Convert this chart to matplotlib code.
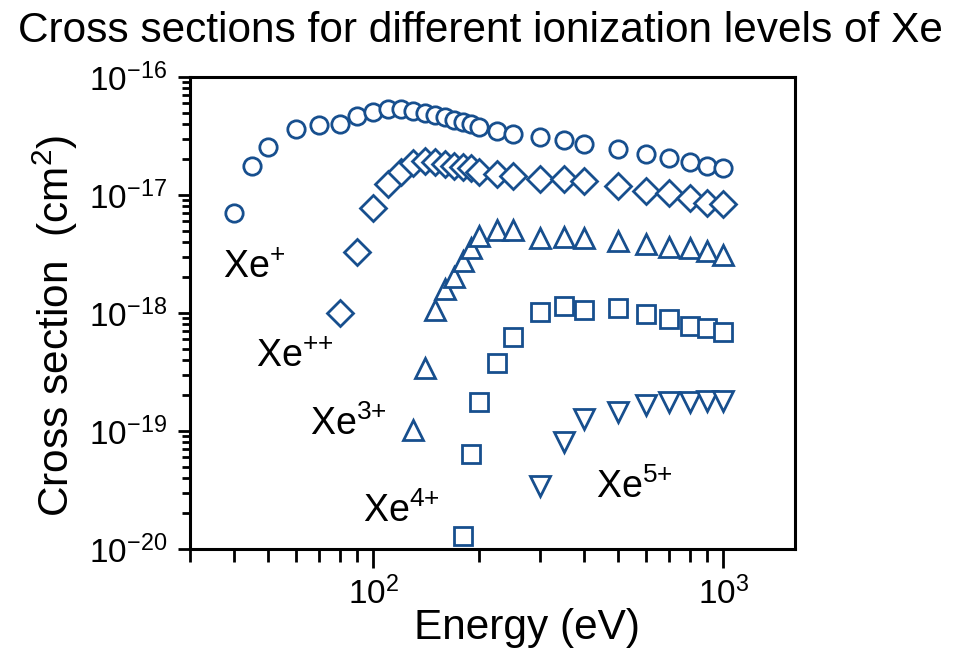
import numpy as np
import matplotlib
matplotlib.use("Agg")
import matplotlib.pyplot as plt
from matplotlib.ticker import LogLocator, NullFormatter

# --- Font setup (Arial-like) ---
plt.rcParams['font.family'] = ['Liberation Sans', 'DejaVu Sans']
plt.rcParams['mathtext.fontset'] = 'custom'
plt.rcParams['mathtext.rm'] = 'Liberation Sans'
plt.rcParams['mathtext.it'] = 'Liberation Sans:italic'
plt.rcParams['mathtext.bf'] = 'Liberation Sans:bold'

# --- Data (energy in eV, cross section in cm^2) ---
E_xe1 = [40, 45, 50, 60, 70, 80, 90, 100, 110, 120, 130, 140, 150, 160, 170,
         180, 190, 200, 225, 250, 300, 350, 400, 500, 600, 700, 800, 900, 1000]
s_xe1 = [7.0e-18, 1.76e-17, 2.56e-17, 3.62e-17, 3.89e-17, 3.97e-17, 4.67e-17,
         5.01e-17, 5.32e-17, 5.32e-17, 5.19e-17, 4.99e-17, 4.77e-17, 4.55e-17,
         4.32e-17, 4.18e-17, 4.0e-17, 3.8e-17, 3.51e-17, 3.27e-17, 3.08e-17,
         2.92e-17, 2.69e-17, 2.44e-17, 2.21e-17, 2.07e-17, 1.89e-17, 1.76e-17,
         1.69e-17]

E_xe2 = [80, 90, 100, 110, 120, 130, 140, 150, 160, 170, 180, 190, 200, 225,
         250, 300, 350, 400, 500, 600, 700, 800, 900, 1000]
s_xe2 = [1.0e-18, 3.27e-18, 7.7e-18, 1.24e-17, 1.58e-17, 1.86e-17, 1.94e-17,
         1.92e-17, 1.83e-17, 1.76e-17, 1.72e-17, 1.68e-17, 1.58e-17, 1.51e-17,
         1.45e-17, 1.38e-17, 1.38e-17, 1.32e-17, 1.19e-17, 1.09e-17, 1.03e-17,
         9.5e-18, 8.5e-18, 8.4e-18]

E_xe3 = [130, 140, 150, 160, 170, 180, 190, 200, 225, 250, 300, 350, 400, 500,
         600, 700, 800, 900, 1000]
s_xe3 = [1.02e-19, 3.44e-19, 1.07e-18, 1.59e-18, 2.01e-18, 2.76e-18, 3.53e-18,
         4.5e-18, 5.05e-18, 5.05e-18, 4.3e-18, 4.38e-18, 4.3e-18, 4.1e-18,
         3.85e-18, 3.65e-18, 3.53e-18, 3.37e-18, 3.1e-18]

E_xe4 = [180, 190, 200, 225, 250, 300, 350, 400, 500, 600, 700, 800, 900, 1000]
s_xe4 = [1.3e-20, 6.4e-20, 1.77e-19, 3.8e-19, 6.2e-19, 1.01e-18, 1.15e-18,
         1.07e-18, 1.1e-18, 9.75e-19, 8.85e-19, 7.76e-19, 7.4e-19, 6.95e-19]

E_xe5 = [300, 350, 400, 500, 600, 700, 800, 900, 1000]
s_xe5 = [3.42e-20, 8.1e-20, 1.26e-19, 1.46e-19, 1.66e-19, 1.77e-19, 1.77e-19,
         1.81e-19, 1.81e-19]

x_major = [1e2, 1e3]
y_major = [1e-20, 1e-19, 1e-18, 1e-17, 1e-16]

series = [
    (E_xe1, s_xe1, 'o', 12.5),
    (E_xe2, s_xe2, 'D', 13),
    (E_xe3, s_xe3, '^', 14),
    (E_xe4, s_xe4, 's', 13.5),
    (E_xe5, s_xe5, 'v', 14),
]
labels = ['Xe$^{+}$', 'Xe$^{{+}{+}}$', 'Xe$^{3{+}}$', 'Xe$^{4{+}}$', 'Xe$^{5{+}}$']
label_pos = [(0.053, 0.574), (0.108, 0.386), (0.197, 0.242),
             (0.285, 0.057), (0.671, 0.108)]

color = '#174f8e'

# --- Plot ---
fig = plt.figure(figsize=(9.67, 6.51), dpi=100)
ax = fig.add_axes([0.197, 0.1567, 0.625, 0.725])

for E, s, m, ms in series:
    ax.plot(E, s, linestyle='none', marker=m, markersize=ms,
            markerfacecolor='white', markeredgecolor=color, markeredgewidth=2)

ax.set_xscale('log')
ax.set_yscale('log')
ax.set_xlim(30, 1600)
ax.set_ylim(1e-20, 1e-16)

# only in-range major ticks get labels
ax.set_xticks(x_major)
ax.set_yticks(y_major)
ax.xaxis.set_minor_locator(LogLocator(base=10, subs=np.arange(2, 10), numticks=20))
ax.yaxis.set_minor_locator(LogLocator(base=10, subs=np.arange(2, 10), numticks=20))
ax.xaxis.set_minor_formatter(NullFormatter())
ax.yaxis.set_minor_formatter(NullFormatter())

for sp in ax.spines.values():
    sp.set_linewidth(2.2)

ax.tick_params(axis='x', which='major', direction='out', length=14, width=2,
               labelsize=24, pad=6)
ax.tick_params(axis='x', which='minor', direction='out', length=9, width=2)
ax.tick_params(axis='y', which='major', direction='out', length=9, width=2,
               labelsize=24, pad=8)
ax.tick_params(axis='y', which='minor', direction='out', length=6, width=2)

for txt, (tx, ty) in zip(labels, label_pos):
    ax.text(tx, ty, txt, transform=ax.transAxes, fontsize=27,
            ha='left', va='baseline')

fig.text(0.497, 0.953, 'Cross sections for different ionization levels of Xe',
         ha='center', va='center', fontsize=30.5)
fig.text(0.5445, 0.035, 'Energy (eV)', ha='center', va='center', fontsize=30.5)
fig.text(0.057, 0.50, 'Cross section  (cm$^2$)', ha='center', va='center',
         rotation=90, fontsize=30.5)

fig.savefig('out.png', dpi=100)
